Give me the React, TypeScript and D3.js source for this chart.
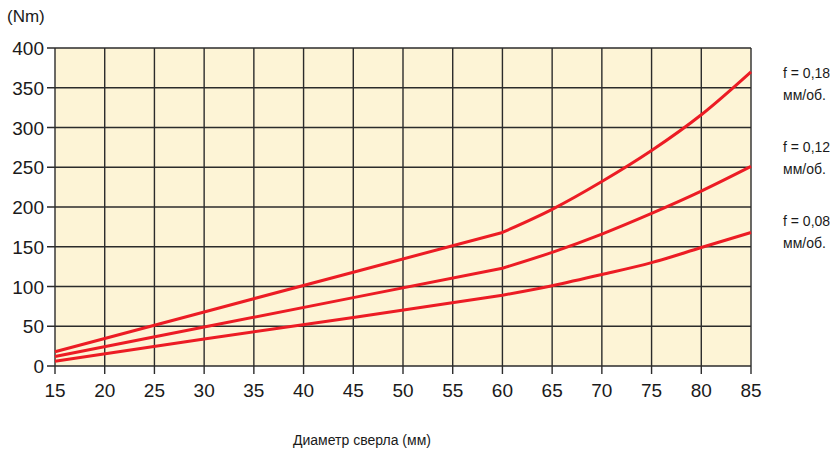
import React from "react";
import * as d3 from "d3";

const xTicks = [15, 20, 25, 30, 35, 40, 45, 50, 55, 60, 65, 70, 75, 80, 85];
const yTicks = [0, 50, 100, 150, 200, 250, 300, 350, 400];
const diam = [15, 30, 45, 60, 65, 70, 75, 80, 85];
const f018 = [18, 68, 118, 168, 197, 232, 271, 316, 370];
const f012 = [12, 49, 86, 123, 143, 166, 192, 220, 251];
const f008 = [6, 34, 61, 89, 101, 115, 130, 149, 168];
const legend = ["f = 0,18", "f = 0,12", "f = 0,08"];
const unitLabel = "мм/об.";
const xTitle = "Диаметр сверла (мм)";
const yTitle = "(Nm)";

export default function App() {
  const W = 837, H = 455;
  const x = d3.scaleLinear().domain([15, 85]).range([55, 751]);
  const y = d3.scaleLinear().domain([0, 400]).range([366, 48]);
  const pts = (s: number[]) => s.map((v, i) => [x(diam[i]), y(v)] as [number, number]);
  const straight = d3.line().curve(d3.curveLinear);
  const curved = d3.line().curve(d3.curveMonotoneX);
  const pathFor = (s: number[]) => {
    const p = pts(s);
    const k = diam.indexOf(60);
    return (straight(p.slice(0, k + 1)) || "") + (curved(p.slice(k)) || "").replace(/^M[^LC]*/, "");
  };
  const series = [f018, f012, f008];
  const font = "'Liberation Sans', Arial, Helvetica, sans-serif";
  const gridC = "#2b2b2b";
  return (
    <svg width={W} height={H} style={{ position: "absolute", left: 0, top: 0 }} fontFamily={font}>
      <rect x={x(15)} y={y(400)} width={x(85) - x(15)} height={y(0) - y(400)} fill="#fdf4d6" />
      {xTicks.map((t) => (
        <line key={"gx" + t} x1={x(t)} x2={x(t)} y1={y(400)} y2={y(0) + 8} stroke={gridC} strokeWidth={1.4} />
      ))}
      {yTicks.map((t) => (
        <line key={"gy" + t} x1={x(15) - 8} x2={x(85)} y1={y(t)} y2={y(t)} stroke={gridC} strokeWidth={1.4} />
      ))}
      {series.map((s, i) => (
        <path key={"s" + i} d={pathFor(s)} fill="none" stroke="#ec1c24" strokeWidth={3} strokeLinejoin="round" />
      ))}
      {yTicks.map((t) => (
        <text key={"ly" + t} x={44} y={y(t) + 7} textAnchor="end" fontSize={19} fill="#1a1a1a">
          {t}
        </text>
      ))}
      {xTicks.map((t) => (
        <text key={"lx" + t} x={x(t)} y={397} textAnchor="middle" fontSize={19} fill="#1a1a1a">
          {t}
        </text>
      ))}
      <text x={7} y={22} fontSize={17} fill="#1a1a1a">{yTitle}</text>
      <text x={362} y={445} textAnchor="middle" fontSize={14} fill="#1a1a1a">{xTitle}</text>
      {legend.map((l, i) => (
        <g key={"lg" + i}>
          <text x={783} y={78 + i * 74} fontSize={14} fill="#1a1a1a">{l}</text>
          <text x={783} y={100 + i * 74} fontSize={14} fill="#1a1a1a">{unitLabel}</text>
        </g>
      ))}
    </svg>
  );
}
